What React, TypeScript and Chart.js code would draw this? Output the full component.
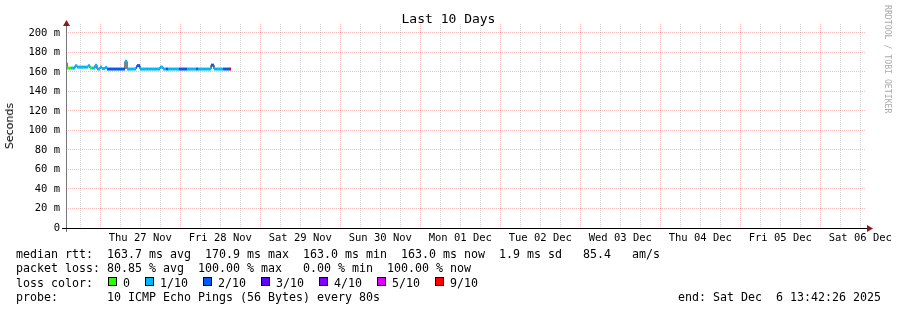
import React, { useEffect, useRef } from "react";
import { Chart, registerables } from "chart.js";

Chart.register(...registerables);

// ---- data ----
const TITLE = "Last 10 Days";
const Y_TITLE = "Seconds";
const WATERMARK = "RRDTOOL / TOBI OETIKER";
const START_CLOCK_HOURS = 13 + 42 / 60 + 26 / 3600; // graph start Wed 26 Nov 13:42:26
const RANGE_HOURS = 240;
const Y_MAX = 209.2;
const Y_TICKS = [0, 10, 20, 30, 40, 50, 60, 70, 80, 90, 100, 110, 120, 130, 140, 150, 160, 170, 180, 190, 200];
const DAY_LABELS = [
  "Thu 27 Nov", "Fri 28 Nov", "Sat 29 Nov", "Sun 30 Nov", "Mon 01 Dec",
  "Tue 02 Dec", "Wed 03 Dec", "Thu 04 Dec", "Fri 05 Dec", "Sat 06 Dec",
];

// median rtt samples (hours since graph start, ms, lost pings out of 10)
const SAMPLE_HOURS = [
  0, 0.3, 1.5, 2.7, 3.3, 4.8, 6.6, 7.2, 7.8, 8.7, 9.3, 10.2, 10.8, 11.7, 12.3,
  17.7, 18.3, 21.0, 21.3, 22.2, 28.2, 29.1, 30.0, 30.6, 33.9, 36.3, 39.0, 39.6,
  43.5, 44.4, 47.1, 48.9,
];
const SAMPLE_END_HOURS = 49.5;
const MEDIAN_MS = [
  169.5, 164.0, 164.0, 166.5, 165.0, 165.0, 166.5, 164.0, 164.0, 167.0, 163.0, 165.0, 163.5, 164.5, 163.0,
  170.9, 163.0, 165.0, 166.5, 163.0, 165.0, 163.0, 163.0, 163.0, 163.0, 163.0, 163.0, 163.0,
  167.0, 163.0, 163.0, 163.0,
];
const LOSS_COUNT = [
  1, 0, 1, 1, 1, 1, 1, 0, 1, 1, 1, 1, 1, 1, 2,
  1, 1, 2, 2, 1, 1, 1, 2, 1, 2, 1, 2, 1,
  2, 1, 2, 9,
];

const LOSS_LABELS = ["0", "1/10", "2/10", "3/10", "4/10", "5/10", "9/10"];
const LOSS_THRESHOLDS = [0, 1, 2, 3, 4, 5, 9];
const LOSS_COLORS = ["#26ff00", "#00b8ff", "#0059ff", "#5e00ff", "#7e00ff", "#dd00ff", "#ff0000"];

const STATS_RTT = "median rtt:  163.7 ms avg  170.9 ms max  163.0 ms min  163.0 ms now  1.9 ms sd   85.4   am/s";
const STATS_LOSS = "packet loss: 80.85 % avg  100.00 % max   0.00 % min  100.00 % now";
const LOSS_CAPTION = "loss color:";
const PROBE = "probe:       10 ICMP Echo Pings (56 Bytes) every 80s";
const END_LABEL = "end: Sat Dec  6 13:42:26 2025";

// ---- styles ----
const MONO = '"DejaVu Sans Mono", monospace';
const MAJOR_GRID = "rgba(240, 80, 80, 0.4)";
const MINOR_GRID = "rgba(150, 150, 150, 0.38)";
const ARROW = "#8b1a1a";

function lossColor(n: number) {
  let c = LOSS_COLORS[0];
  LOSS_THRESHOLDS.forEach((th, i) => {
    if (n >= th) c = LOSS_COLORS[i];
  });
  return c;
}

export default function App() {
  const ref = useRef<HTMLCanvasElement>(null);

  useEffect(() => {
    document.body.style.margin = "0";
    const canvas = ref.current;
    if (!canvas) return;

    const firstMidnight = 24 - START_CLOCK_HOURS;
    const xTickValues: number[] = [];
    for (let k = -1; ; k++) {
      const t = firstMidnight + 6 * k;
      if (t > RANGE_HOURS) break;
      if (t >= 0) xTickValues.push(t);
    }
    const slot = (v: number) => Math.round((v - firstMidnight) / 6);

    const stepPts = SAMPLE_HOURS.map((t, i) => ({ x: t, y: MEDIAN_MS[i] }));
    stepPts.push({ x: SAMPLE_END_HOURS, y: MEDIAN_MS[MEDIAN_MS.length - 1] });

    const pieces: { x: number; y: number | null }[] = [];
    SAMPLE_HOURS.forEach((t, i) => {
      const tEnd = i + 1 < SAMPLE_HOURS.length ? SAMPLE_HOURS[i + 1] : SAMPLE_END_HOURS;
      pieces.push({ x: t, y: MEDIAN_MS[i] }, { x: tEnd, y: MEDIAN_MS[i] }, { x: tEnd, y: null });
    });

    const axesPlugin = {
      id: "rrdAxes",
      afterDraw(chart: any) {
        const { ctx, chartArea } = chart;
        const { left, right, top, bottom } = chartArea;
        ctx.save();
        // y axis
        ctx.strokeStyle = "#777";
        ctx.lineWidth = 1;
        ctx.beginPath();
        ctx.moveTo(left + 0.5, bottom + 4);
        ctx.lineTo(left + 0.5, top - 1);
        ctx.stroke();
        // x axis
        ctx.strokeStyle = "#000";
        ctx.beginPath();
        ctx.moveTo(left - 4, bottom + 0.5);
        ctx.lineTo(right + 2, bottom + 0.5);
        ctx.stroke();
        // arrows
        ctx.fillStyle = ARROW;
        ctx.beginPath();
        ctx.moveTo(left + 0.5, top - 4);
        ctx.lineTo(left - 3, top + 2);
        ctx.lineTo(left + 4, top + 2);
        ctx.closePath();
        ctx.fill();
        ctx.beginPath();
        ctx.moveTo(right + 7, bottom + 0.5);
        ctx.lineTo(right + 1, bottom - 3);
        ctx.lineTo(right + 1, bottom + 4);
        ctx.closePath();
        ctx.fill();
        ctx.restore();
      },
    };

    const chart = new Chart(canvas, {
      type: "line",
      data: {
        datasets: [
          {
            data: pieces as any,
            borderColor: LOSS_COLORS[1],
            borderWidth: 3,
            pointRadius: 0,
            spanGaps: false,
            order: 0,
            segment: {
              borderColor: (c: any) => lossColor(LOSS_COUNT[Math.floor(c.p0DataIndex / 3)]),
            },
          },
          {
            data: stepPts as any,
            borderColor: "#000",
            borderWidth: 1,
            pointRadius: 0,
            stepped: true,
            order: 1,
          },
        ],
      },
      options: {
        responsive: false,
        animation: false,
        devicePixelRatio: 1,
        layout: { padding: { top: 24, right: 31, left: 0, bottom: 0 } },
        plugins: { legend: { display: false }, tooltip: { enabled: false }, title: { display: false } },
        scales: {
          x: {
            type: "linear",
            min: 0,
            max: RANGE_HOURS,
            afterBuildTicks: (a: any) => {
              a.ticks = xTickValues.map((v) => ({ value: v }));
            },
            afterFit: (s: any) => {
              s.height = 82;
            },
            grid: {
              color: (c: any) => (slot(c.tick ? c.tick.value : 0) % 4 === 0 ? MAJOR_GRID : MINOR_GRID),
              lineWidth: 1,
              drawTicks: false,
            },
            border: { display: false, dash: [1, 1] },
            ticks: {
              autoSkip: false,
              maxRotation: 0,
              minRotation: 0,
              padding: 4,
              color: "#000",
              font: { family: MONO, size: 10.5 },
              callback: (v: any) => {
                const k = slot(Number(v));
                if (k % 4 !== 2) return "";
                return DAY_LABELS[(k - 2) / 4] ?? "";
              },
            },
          },
          y: {
            type: "linear",
            min: 0,
            max: Y_MAX,
            afterBuildTicks: (a: any) => {
              a.ticks = Y_TICKS.map((v) => ({ value: v }));
            },
            afterFit: (s: any) => {
              s.width = 66;
            },
            grid: {
              color: (c: any) => ((c.tick ? c.tick.value : 0) % 20 === 0 ? MAJOR_GRID : MINOR_GRID),
              lineWidth: 1,
              drawTicks: false,
            },
            border: { display: false, dash: [1, 1] },
            ticks: {
              padding: 6,
              color: "#000",
              font: { family: MONO, size: 10.5 },
              callback: (v: any) => {
                const n = Number(v);
                if (n % 20 !== 0) return "";
                return n === 0 ? "0" : `${n} m`;
              },
            },
          },
        },
      },
      plugins: [axesPlugin],
    });

    return () => chart.destroy();
  }, []);

  const lossItems: { label: string; color: string; box: number; text: number }[] = [];
  let lx = 108;
  LOSS_LABELS.forEach((label, i) => {
    lossItems.push({ label, color: LOSS_COLORS[i], box: lx, text: lx + 15 });
    lx = lx + 15 + label.length * 7 + 15;
  });

  const textStyle: React.CSSProperties = {
    position: "absolute",
    fontFamily: MONO,
    fontSize: "11.63px",
    lineHeight: "14px",
    whiteSpace: "pre",
    color: "#000",
  };

  return (
    <div style={{ position: "absolute", left: 0, top: 0, width: 897, height: 310, background: "#fff", overflow: "hidden" }}>
      <canvas ref={ref} width={897} height={310} style={{ position: "absolute", left: 0, top: 0 }} />
      <div
        style={{
          position: "absolute", left: 0, top: 11, width: 897, textAlign: "center",
          fontFamily: MONO, fontSize: "13px", lineHeight: "16px", color: "#000", whiteSpace: "pre",
        }}
      >
        {TITLE}
      </div>
      <div
        style={{
          position: "absolute", left: 3, top: 103, writingMode: "vertical-rl", transform: "rotate(180deg)",
          fontFamily: '"DejaVu Sans", sans-serif', fontSize: "11px", lineHeight: "14px", color: "#000",
        }}
      >
        {Y_TITLE}
      </div>
      <div
        style={{
          position: "absolute", left: 883, top: 5, writingMode: "vertical-rl",
          fontFamily: MONO, fontSize: "8.2px", lineHeight: "10px", color: "#aaa", whiteSpace: "pre",
        }}
      >
        {WATERMARK}
      </div>
      <div style={{ ...textStyle, left: 16, top: 247 }}>{STATS_RTT}</div>
      <div style={{ ...textStyle, left: 16, top: 261 }}>{STATS_LOSS}</div>
      <div style={{ ...textStyle, left: 16, top: 276 }}>{LOSS_CAPTION}</div>
      {lossItems.map((it) => (
        <React.Fragment key={it.label}>
          <div
            style={{
              position: "absolute", left: it.box, top: 277, width: 9, height: 9, boxSizing: "border-box",
              border: "1px solid #000", background: it.color,
            }}
          />
          <div style={{ ...textStyle, left: it.text, top: 276 }}>{it.label}</div>
        </React.Fragment>
      ))}
      <div style={{ ...textStyle, left: 16, top: 290 }}>{PROBE}</div>
      <div style={{ ...textStyle, left: 678, top: 290 }}>{END_LABEL}</div>
    </div>
  );
}
